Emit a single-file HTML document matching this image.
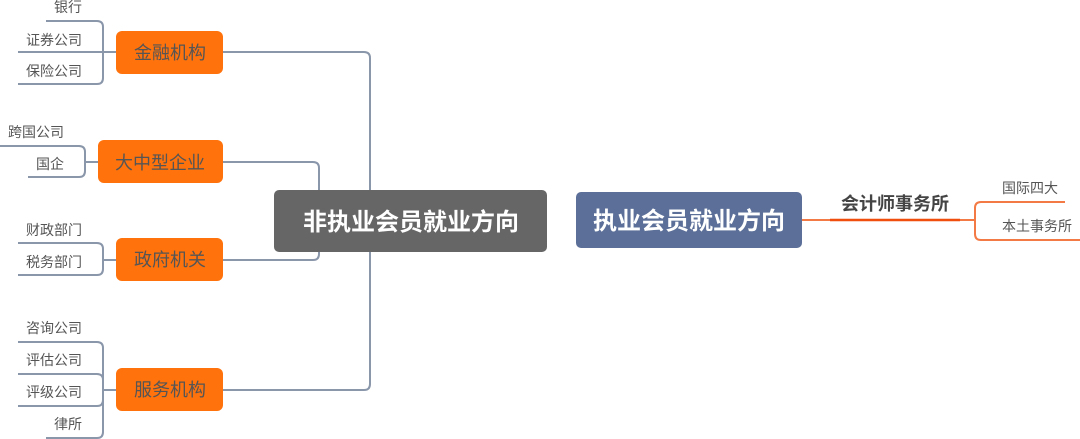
<!DOCTYPE html>
<html><head><meta charset="utf-8"><style>
html,body{margin:0;padding:0;background:#fff;width:1080px;height:439px;overflow:hidden}
svg text{font-family:"Liberation Sans","Noto Sans CJK SC",sans-serif}
</style></head><body>
<svg width="1080" height="439" viewBox="0 0 1080 439" xmlns="http://www.w3.org/2000/svg">
<g fill="none" stroke="#8a96aa" stroke-width="2">
<path d="M223 52 H364 Q370 52 370 58 V190"/>
<path d="M223 162 H313 Q319 162 319 168 V190"/>
<path d="M223 260 H313 Q319 260 319 254 V252"/>
<path d="M223 390 H364 Q370 390 370 384 V252"/>
<path d="M46 21 H97 Q103 21 103 27 V78 Q103 84 97 84 H18"/>
<path d="M18 52 H116"/>
<path d="M0 146 H79 Q85 146 85 152 V171 Q85 177 79 177 H28"/>
<path d="M85 162 H98"/>
<path d="M18 243 H97 Q103 243 103 249 V269 Q103 275 97 275 H18"/>
<path d="M103 260 H116"/>
<path d="M18 342 H97 Q103 342 103 348 V432 Q103 438 97 438 H46"/>
<path d="M18 374 H97 Q103 374 103 380"/>
<path d="M18 406 H97 Q103 406 103 400"/>
<path d="M103 390 H116"/>
</g>
<g fill="none" stroke="#f47a45" stroke-width="2">
<path d="M802 220 H975"/>
<path d="M1065 202 H981 Q975 202 975 208 V234 Q975 240 981 240 H1080"/>
</g>
<path d="M830 220 H960" stroke="#f04e0c" stroke-width="2.5"/>
<g fill="#ff720c">
<rect x="116" y="31" width="107" height="43" rx="6"/>
<rect x="98" y="140" width="125" height="43" rx="6"/>
<rect x="116" y="238" width="107" height="43" rx="6"/>
<rect x="116" y="368" width="107" height="43" rx="6"/>
</g>
<rect x="274" y="190" width="273" height="62" rx="5" fill="#666666"/>
<rect x="576" y="192" width="226" height="56" rx="5" fill="#5b6f98"/>
<g font-size="18" fill="#555" text-anchor="middle">
<text x="170" y="59">金融机构</text>
<text x="160" y="169">大中型企业</text>
<text x="170" y="266">政府机关</text>
<text x="170" y="396">服务机构</text>
</g>
<g font-size="24" font-weight="bold" fill="#fff" text-anchor="middle">
<text x="411" y="230">非执业会员就业方向</text>
<text x="689" y="229">执业会员就业方向</text>
</g>
<text x="895" y="210" font-size="18" font-weight="bold" fill="#444" text-anchor="middle">会计师事务所</text>
<g font-size="14" fill="#555" text-anchor="end">
<text x="82" y="12">银行</text>
<text x="82" y="45">证券公司</text>
<text x="82" y="76">保险公司</text>
<text x="64" y="137">跨国公司</text>
<text x="64" y="169">国企</text>
<text x="82" y="235">财政部门</text>
<text x="82" y="267">税务部门</text>
<text x="82" y="333">咨询公司</text>
<text x="82" y="365">评估公司</text>
<text x="82" y="397">评级公司</text>
<text x="82" y="429">律所</text>
<text x="1058" y="193">国际四大</text>
<text x="1072" y="231">本土事务所</text>
</g>
</svg>
</body></html>
